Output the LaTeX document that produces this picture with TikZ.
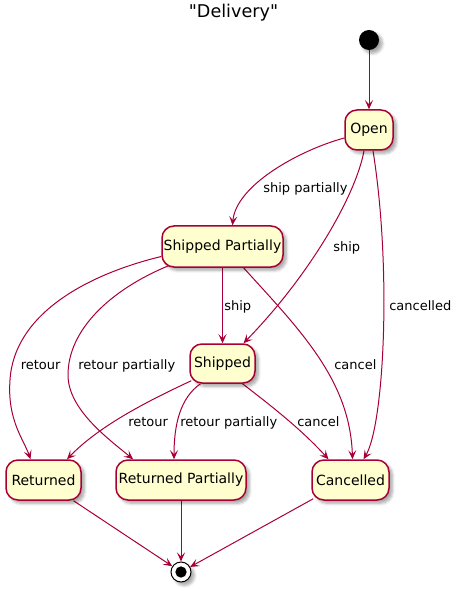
\documentclass[tikz,border=0pt]{standalone}
\usepackage{fontspec}
\setmainfont{DejaVu Sans}
\newfontfamily\titlefont{DejaVu Sans}[Ligatures=TeXOff]
\usetikzlibrary{arrows.meta,shadows.blur,calc,backgrounds}
\definecolor{pline}{HTML}{A80036}
\definecolor{pfill}{HTML}{FEFECE}
\begin{document}
\begin{tikzpicture}[x=0.75pt,y=-0.75pt,
  pshadow/.style={blur shadow={shadow xshift=2.5pt,shadow yshift=-2.5pt,shadow blur steps=6,shadow opacity=35}},
  statebox/.style={draw=pline,fill=pfill,line width=1.125pt,rounded corners=9pt,inner sep=0pt,
    font=\fontsize{10.5}{12}\selectfont,pshadow},
  trans/.style={draw=pline,line width=0.75pt,-{Stealth[length=6.75pt,width=6pt,inset=3pt]}},
  lbl/.style={anchor=base west,inner sep=0pt,font=\fontsize{9.75}{11}\selectfont}]
\useasboundingbox (0,0) rectangle (459,591);
\node[anchor=base,inner sep=0pt,font=\titlefont\fontsize{13.2}{15}\selectfont] (title) at (233.5,17.5) {"Delivery"};
\node[circle,fill=black,minimum size=15pt,inner sep=0pt,pshadow] (start) at (369,40) {};
\node[statebox,minimum width=36pt,minimum height=30pt] (open) at (369,130) {Open};
\node[statebox,minimum width=90.75pt,minimum height=30.75pt] (sp) at (222.5,246.5) {Shipped Partially};
\node[statebox,minimum width=48.75pt,minimum height=29.25pt] (shipped) at (222.5,363.5) {Shipped};
\node[statebox,minimum width=56.25pt,minimum height=30pt] (ret) at (43.5,480) {Returned};
\node[statebox,minimum width=97.5pt,minimum height=30pt] (rp) at (181,480) {Returned Partially};
\node[statebox,minimum width=57.75pt,minimum height=30pt] (canc) at (350.5,480) {Cancelled};
\node[circle,draw=black,fill=white,line width=0.75pt,minimum size=15pt,inner sep=0pt,pshadow] (endn) at (181,572) {};
\node[circle,fill=black,minimum size=8.5pt,inner sep=0pt] (endin) at (endn.center) {};
\begin{scope}[on background layer]
\draw[trans] (start) -- (open.north);
\draw[trans] ($(open.west)+(0,8)$) .. controls (300,150) and (236,185) .. ($(sp.north)+(10,0)$);
\draw[trans] ($(open.south)+(-5,0)$) .. controls (356,195) and (310,275) .. ($(shipped.north)+(21,0)$);
\draw[trans] ($(open.south)+(4,0)$) .. controls (392,270) and (384,425) .. ($(canc.north)+(13,0)$);
\draw[trans] (sp.south) -- (shipped.north);
\draw[trans] ($(sp.west)+(0,10)$) .. controls (85,275) and (14,315) .. (10,380) .. controls (7,420) and (24,440) .. ($(ret.north)+(-13,0)$);
\draw[trans] ($(sp.south)+(-54,-2)$) .. controls (110,290) and (68,330) .. (68,375) .. controls (68,410) and (110,440) .. ($(rp.north)+(-48,0)$);
\draw[trans] ($(sp.south)+(21,0)$) .. controls (300,330) and (350,380) .. ($(canc.north)+(2,0)$);
\draw[trans] ($(shipped.south west)+(2,-3)$) .. controls (150,400) and (100,425) .. ($(ret.north)+(23.5,0)$);
\draw[trans] ($(shipped.south)+(-22,0)$) .. controls (180,398) and (174,425) .. ($(rp.north)+(-7,0)$);
\draw[trans] ($(shipped.south)+(20,0)$) .. controls (270,405) and (300,428) .. ($(canc.north)+(-22,0)$);
\draw[trans] ($(ret.south)+(30,0)$) -- (endn);
\draw[trans] (rp.south) -- (endn.north);
\draw[trans] ($(canc.south west)+(2,-2)$) -- (endn);
\end{scope}
\node[lbl] (l1) at (263,193) {ship partially};
\node[lbl] (l2) at (333,251.5) {ship};
\node[lbl] (l3) at (389,310.5) {cancelled};
\node[lbl] (l4) at (224,310.5) {ship};
\node[lbl] (l5) at (20.5,369.3) {retour};
\node[lbl] (l6) at (78,369.3) {retour partially};
\node[lbl] (l7) at (334,369.3) {cancel};
\node[lbl] (l8) at (128,426.5) {retour};
\node[lbl] (l9) at (180,426.5) {retour partially};
\node[lbl] (l10) at (297,426.5) {cancel};
\end{tikzpicture}
\end{document}
